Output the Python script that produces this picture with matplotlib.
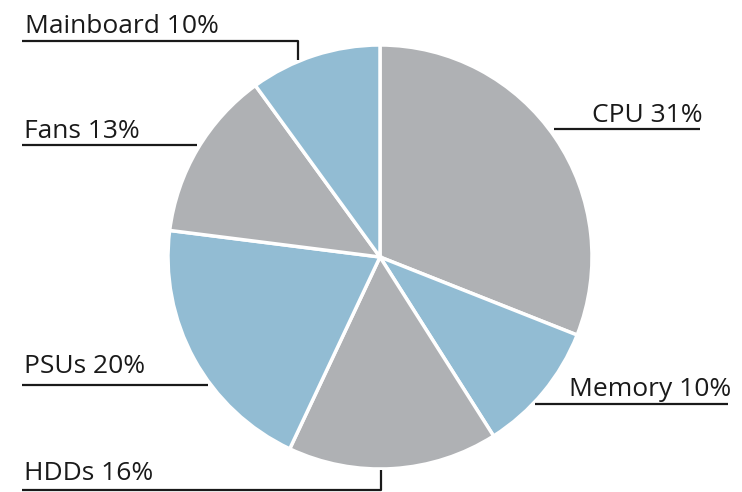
import matplotlib
matplotlib.use("Agg")
import matplotlib.pyplot as plt

# data
parts = ['CPU', 'Memory', 'HDDs', 'PSUs', 'Fans', 'Mainboard']
shares = [31, 10, 16, 20, 13, 10]
colors = ['#afb1b4', '#92bcd3', '#afb1b4', '#92bcd3', '#afb1b4', '#92bcd3']

W, H = 742, 492

fig = plt.figure(figsize=(W / 100, H / 100), dpi=100)
ax = fig.add_axes([0, 0, 1, 1])
ax.set_xlim(0, W)
ax.set_ylim(0, H)
ax.set_aspect('equal')
ax.axis('off')

# pie centre / radius in pixels (y from bottom)
cx, cy, r = 380, H - 257, 212
ax.pie(shares, colors=colors, startangle=90, counterclock=False,
       center=(cx, cy), radius=r,
       wedgeprops=dict(edgecolor='white', linewidth=2.5))
ax.set_xlim(0, W)
ax.set_ylim(0, H)

# label layout: text anchor, alignment, leader line (pixel coords, y from top)
layout = {
    'CPU':       dict(xy=(703, 122), ha='right', line=[(554, 129), (700, 129)]),
    'Memory':    dict(xy=(731, 396), ha='right', line=[(535, 404), (728, 404)]),
    'HDDs':      dict(xy=(24, 480), ha='left', line=[(22, 490), (381, 490), (381, 470)]),
    'PSUs':      dict(xy=(24, 373), ha='left', line=[(22, 385), (208, 385)]),
    'Fans':      dict(xy=(24, 138), ha='left', line=[(22, 145), (197, 145)]),
    'Mainboard': dict(xy=(25, 33), ha='left', line=[(22, 41), (298, 41), (298, 60)]),
}

for name, val in zip(parts, shares):
    lay = layout[name]
    x, y = lay['xy']
    ax.text(x, H - y, f'{name} {val}%', ha=lay['ha'], va='baseline',
            fontsize=19, family='Open Sans', color='#1a1a1a')
    xs = [p[0] for p in lay['line']]
    ys = [H - p[1] for p in lay['line']]
    ax.plot(xs, ys, color='#1a1a1a', linewidth=1.6, solid_capstyle='butt')

fig.savefig('out.png', dpi=100)
